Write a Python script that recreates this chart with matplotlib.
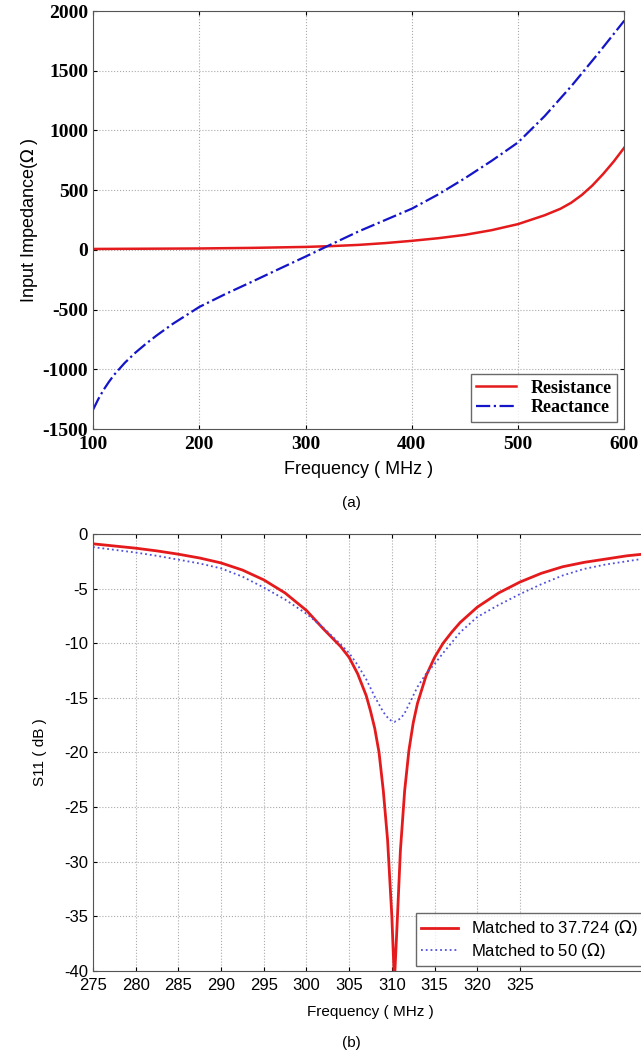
import matplotlib.pyplot as plt
import numpy as np

plt.rcParams['axes.unicode_minus'] = False

# ---- (a) input impedance vs frequency ----
freq_a = [100, 105, 110, 115, 120, 130, 140, 150, 160, 175, 200, 225, 250, 275,
          300, 325, 350, 375, 400, 425, 450, 475, 500, 525, 550, 575, 600]
reactance = [-1340, -1250, -1172, -1105, -1045, -945, -860, -785, -716, -620, -478, -368,
             -265, -160, -56, 50, 155, 250, 345, 465, 600, 745, 900, 1120, 1370, 1640, 1920]
freq_r_a = [100, 150, 200, 250, 300, 325, 350, 375, 400, 425, 450, 475, 500, 525, 540, 550,
            560, 570, 580, 590, 600]
resistance = [8, 10, 12, 17, 25, 32, 42, 57, 76, 98, 126, 165, 216, 290, 345, 395,
              460, 540, 635, 740, 857]

# ---- (b) S11 vs frequency ----
freq_b1 = [275, 277.5, 280, 282.5, 285, 287.5, 290, 292.5, 295, 297.5, 300, 302, 304, 305, 306,
           307, 307.5, 308, 308.5, 309, 309.5, 310, 310.3, 310.6, 311, 311.5, 312, 312.5, 313,
           314, 315, 316, 317, 318, 320, 322.5, 325, 327.5, 330, 332.5, 335, 337.5, 340]
s11_37 = [-0.9, -1.1, -1.3, -1.55, -1.85, -2.2, -2.65, -3.3, -4.2, -5.4, -7.0, -8.7, -10.3, -11.3,
          -12.8, -14.8, -16.2, -17.8, -20.0, -23.5, -28.0, -35.0, -41.0, -36.0, -29.0, -23.5,
          -19.8, -17.3, -15.5, -13.0, -11.3, -10.0, -9.0, -8.1, -6.7, -5.4, -4.4, -3.6, -3.0,
          -2.6, -2.3, -2.0, -1.8]
freq_b2 = [275, 277.5, 280, 282.5, 285, 287.5, 290, 292.5, 295, 297.5, 300, 302, 304, 305, 306,
           307, 308, 309, 309.7, 310.3, 311, 311.5, 312, 313, 314, 315, 316, 318, 320, 322.5,
           325, 327.5, 330, 332.5, 335, 337.5, 340]
s11_50 = [-1.2, -1.45, -1.7, -2.0, -2.35, -2.7, -3.15, -3.9, -4.9, -6.0, -7.3, -8.6, -10.1, -10.9,
          -12.0, -13.3, -14.9, -16.3, -17.0, -17.2, -16.9, -16.4, -15.6, -14.0, -12.8, -11.9,
          -10.9, -9.0, -7.6, -6.5, -5.5, -4.6, -3.8, -3.2, -2.8, -2.5, -2.2]

fig = plt.figure(figsize=(6.41, 10.62), dpi=100)
sans = 'Liberation Sans'
grid_kw = dict(ls=':', color='#aaaaaa', lw=0.8)

# ---------------- (a) ----------------
ax1 = fig.add_axes([0.145, 0.596, 0.829, 0.3936])
ax1.plot(freq_r_a, resistance, color='#e41a1c', lw=1.8, label='Resistance')
ax1.plot(freq_a, reactance, color='#1414c8', lw=1.6, ls='-.', label='Reactance')
ax1.set_xlim(100, 600)
ax1.set_ylim(-1500, 2000)
ax1.set_xticks([100, 200, 300, 400, 500, 600])
ax1.set_yticks(np.arange(-1500, 2001, 500))
for lab in ax1.get_xticklabels() + ax1.get_yticklabels():
    lab.set_fontfamily('Liberation Serif')
    lab.set_fontweight('bold')
    lab.set_fontsize(14)
ax1.tick_params(direction='in', top=True, right=True, length=3)
ax1.tick_params(axis='x', pad=5)
ax1.grid(True, **grid_kw)
for s in ax1.spines.values():
    s.set_color('#555555')
ax1.set_xlabel('Frequency ( MHz )', family=sans, fontsize=13, labelpad=6)
ax1.set_ylabel('Input Impedance($\\Omega$ )', family=sans, fontsize=13, labelpad=2)
leg1 = ax1.legend(loc='lower right', prop=dict(family='Liberation Serif', weight='bold', size=13),
                  fancybox=False, edgecolor='#444444', handlelength=2.2, borderpad=0.3,
                  labelspacing=0.15, borderaxespad=0.4)
leg1.get_frame().set_linewidth(1.0)
fig.text(0.548, 0.523, '(a)', family=sans, fontsize=11, ha='center')

# ---------------- (b) ----------------
ax2 = fig.add_axes([0.145, 0.0857, 0.866, 0.4115])
ax2.plot(freq_b1, s11_37, color='#e41a1c', lw=2.0, label='Matched to 37.724 ($\\Omega$)')
ax2.plot(freq_b2, s11_50, color='#5050dd', lw=1.3, ls=':', label='Matched to 50 ($\\Omega$)')
ax2.set_xlim(275, 340)
ax2.set_ylim(-40, 0)
ax2.set_xticks(np.arange(275, 326, 5))
ax2.set_yticks(np.arange(-40, 1, 5))
for lab in ax2.get_xticklabels() + ax2.get_yticklabels():
    lab.set_fontfamily(sans)
    lab.set_fontsize(12)
ax2.tick_params(direction='in', top=True, right=True, length=3)
ax2.tick_params(axis='x', pad=5)
ax2.grid(True, **grid_kw)
for s in ax2.spines.values():
    s.set_color('#555555')
ax2.set_xlabel('Frequency ( MHz )', family=sans, fontsize=11, labelpad=9)
ax2.set_ylabel('S11 ( dB )', family=sans, fontsize=11, labelpad=12)
leg2 = ax2.legend(loc='lower right', prop=dict(family=sans, size=12),
                  fancybox=False, edgecolor='#444444', handlelength=2.2, borderpad=0.3,
                  labelspacing=0.15, borderaxespad=0.3)
leg2.get_frame().set_linewidth(1.0)
fig.text(0.548, 0.014, '(b)', family=sans, fontsize=11, ha='center')

fig.savefig('out.png', dpi=100)
